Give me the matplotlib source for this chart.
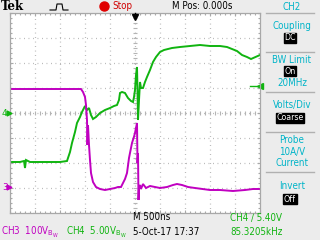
import numpy as np
import matplotlib
matplotlib.use('Agg')
import matplotlib.pyplot as plt

# time axis in ns, 500 ns/div, trigger at centre
ch4_t = [-2500, -2300, -2220, -2200, -2180, -2100, -1900, -1700, -1500, -1360, -1300,
         -1260, -1200, -1160, -1100, -1060, -1020, -1000, -960, -920, -880, -840, -780,
         -700, -600, -500, -420, -360, -320, -300, -260, -200, -140, -80, -40, -20, 0,
         20, 40, 50, 60, 80, 100, 120, 160, 200, 240, 300, 360, 420, 500, 580, 740, 900,
         1100, 1300, 1500, 1700, 1840, 1940, 2040, 2140, 2240, 2320, 2500]
# CH4 volts (5.00 V/div, ground at centre)
ch4_v = [-9.8, -9.8, -9.6, -11.0, -9.4, -9.8, -9.8, -9.8, -9.8, -9.6, -7.8,
         -6.0, -3.8, -2.0, -0.8, 0.2, 1.0, 1.4, 0.6, 1.0, -0.4, -1.2, -0.8,
         0.0, 0.6, 1.0, 1.4, 1.6, 2.6, 4.0, 4.2, 4.0, 3.0, 2.4, 2.2, 3.2, 4.6,
         7.6, 9.2, 4.6, -1.4, 2.6, 6.2, 5.0, 5.0, 6.2, 7.2, 8.6, 10.2, 11.2, 12.2, 12.6,
         13.0, 13.2, 13.4, 13.6, 13.4, 13.4, 13.2, 12.8, 12.4, 11.6, 11.2, 10.8, 11.6]

ch3_t = [-2500, -1900, -1500, -1200, -1080, -1040, -1000, -980, -960, -950, -940, -930,
         -920, -900, -880, -840, -780, -700, -600, -500, -400, -340, -280, -240, -200,
         -160, -140, -120, -100, -60, -20, 0, 20, 40, 50, 60, 70, 80, 100, 120, 160, 220,
         300, 400, 500, 640, 760, 840, 940, 1060, 1200, 1500, 1700, 1960, 2200, 2360, 2500]
# CH3 volts (100 V/div, ground 3 div below centre)
ch3_v = [396, 396, 396, 396, 396, 384, 364, 332, 272, 172, 250, 212,
         172, 112, 60, 24, 4, -4, -8, -4, 0, 4, 4, 20, 36,
         60, 90, 120, 140, 180, 205, 220, 240, 260, 100, 140, -48, 0, 12, -4, 16, 0,
         8, 4, 0, 4, 12, 16, 12, 4, 0, -8, -8, -12, -8, -4, -4]

ch4_scale = 5.0
ch3_scale = 100.0
ch3_offset = -3

GREEN = '#10b410'
MAGENTA = '#c000c0'
CYAN = '#00b4c8'
BG = '#ececec'

plt.rcParams['font.family'] = ['DejaVu Sans']

fig = plt.figure(figsize=(3.2, 2.4), dpi=100, facecolor=BG)


def px(x, y):
    return x / 320, 1 - y / 240


ax = fig.add_axes([10 / 320, 1 - 213 / 240, 250 / 320, 200 / 240], facecolor='white')
ax.set_xlim(-2500, 2500)
ax.set_ylim(-4, 4)
ax.set_xticks(np.arange(-2500, 2501, 500))
ax.set_yticks(np.arange(-4, 5, 1))
ax.set_xticks(np.arange(-2500, 2501, 100), minor=True)
ax.set_yticks(np.arange(-4, 4.01, 0.2), minor=True)
ax.tick_params(which='both', direction='in', length=2.2, width=0.8, color='#a8a8a8',
               top=True, right=True, labelbottom=False, labelleft=False)
ax.tick_params(which='minor', length=1.6)
ax.grid(True, which='major', color='#b4b4b4', linewidth=0.9, linestyle=(0, (0.72, 2.88)))
for s in ax.spines.values():
    s.set_color('#a8a8a8')
    s.set_linewidth(0.9)
# centre cross ticks
mt = np.arange(-2500, 2501, 100)
ax.plot(mt, np.zeros_like(mt), ls='none', marker='|', ms=2.5, mew=0.8, color='#b4b4b4')
mv = np.arange(-4, 4.01, 0.2)
ax.plot(np.zeros_like(mv), mv, ls='none', marker='_', ms=2.5, mew=0.8, color='#b4b4b4')

ax.plot(ch4_t, np.array(ch4_v) / ch4_scale, color=GREEN, lw=1.4, solid_joinstyle='miter')
ax.plot(ch3_t, np.array(ch3_v) / ch3_scale + ch3_offset, color=MAGENTA, lw=1.4,
        solid_joinstyle='miter')
# trigger level marker (CH4 5.40V)
ax.plot([2500], [5.40 / ch4_scale], marker='<', ms=4, color=GREEN, clip_on=False)
ax.plot([2300, 2500], [5.40 / ch4_scale] * 2, color=GREEN, lw=1, clip_on=False)

# ground markers
fig.text(*px(2, 113), '4', color=GREEN, fontsize=6.5, va='center')
fig.text(*px(2, 187), '3', color=MAGENTA, fontsize=6.5, va='center')
for y, c in [(113, GREEN), (187, MAGENTA)]:
    fig.add_artist(plt.Line2D([px(7, 0)[0], px(10, 0)[0]], [px(0, y)[1]] * 2,
                              transform=fig.transFigure, color=c, lw=1))
    fig.add_artist(plt.Line2D([px(9, 0)[0]], [px(0, y)[1]], marker='>', ms=3.5,
                              color=c, transform=fig.transFigure))

# top bar
fig.text(*px(1, 6), 'Tek', fontsize=8.5, fontweight='bold', family='DejaVu Serif',
         va='center')
pulse_x = [50, 56, 57, 59, 62, 63, 68]
pulse_y = [10, 10, 4, 4, 4, 10, 10]
fig.add_artist(plt.Line2D([px(x, 0)[0] for x in pulse_x], [px(0, y)[1] for y in pulse_y],
                          color='black', lw=0.8, transform=fig.transFigure))
fig.add_artist(plt.Line2D([px(104, 0)[0]], [px(0, 5.5)[1]], marker='o', ms=6.5,
                          color='#e00000', transform=fig.transFigure))
fig.text(*px(112, 6), 'Stop', fontsize=7, color='#d00000', va='center',
         fontstretch='condensed')
fig.text(*px(172, 6), 'M Pos: 0.000s', fontsize=7, va='center', fontstretch='condensed')
fig.add_artist(plt.Line2D([px(135, 0)[0]] * 2, [px(0, 13)[1], px(0, 17)[1]],
                          color='black', lw=1, transform=fig.transFigure))
fig.add_artist(plt.Line2D([px(135, 0)[0]], [px(0, 17)[1]], marker='v', ms=4,
                          color='black', transform=fig.transFigure))

# right menu
menu = [('CH2', 7, False), ('Coupling', 26, False), ('DC', 38, True),
        ('BW Limit', 60, False), ('On', 71, True), ('20MHz', 83, False),
        ('Volts/Div', 105, False), ('Coarse', 118, True),
        ('Probe', 140, False), ('10A/V', 152, False), ('Current', 163, False),
        ('Invert', 186, False), ('Off', 199, True)]
for label, y, boxed in menu:
    if boxed:
        fig.text(*px(290, y), label, fontsize=6.3, color='white', ha='center',
                 va='center', fontstretch='condensed',
                 bbox=dict(boxstyle='square,pad=0.08', fc='black', ec='black'))
    else:
        fig.text(*px(292, y), label, fontsize=7, color=CYAN, ha='center', va='center',
                 fontstretch='condensed')
for y in [13, 52, 92, 132, 172]:
    fig.add_artist(plt.Line2D([px(266, 0)[0], px(314, 0)[0]], [px(0, y)[1]] * 2,
                              color='#b0b0b0', lw=1, transform=fig.transFigure))

# bottom status
fig.text(*px(133, 217), 'M 500ns', fontsize=7, va='center', fontstretch='condensed')
fig.text(*px(1, 232), 'CH3  100V$_{\\rm B_W}$', fontsize=7, color=MAGENTA,
         va='center', fontstretch='condensed')
fig.text(*px(66, 232), 'CH4  5.00V$_{\\rm B_W}$', fontsize=7, color=GREEN,
         va='center', fontstretch='condensed')
fig.text(*px(133, 232), '5-Oct-17 17:37', fontsize=7, va='center',
         fontstretch='condensed')
fig.text(*px(230, 217), 'CH4 \u2215 5.40V', fontsize=7, color=GREEN, va='center',
         fontstretch='condensed')
fig.text(*px(230, 232), '85.3205kHz', fontsize=7, color=GREEN, va='center',
         fontstretch='condensed')

fig.savefig('out.png', dpi=100, facecolor=BG)
